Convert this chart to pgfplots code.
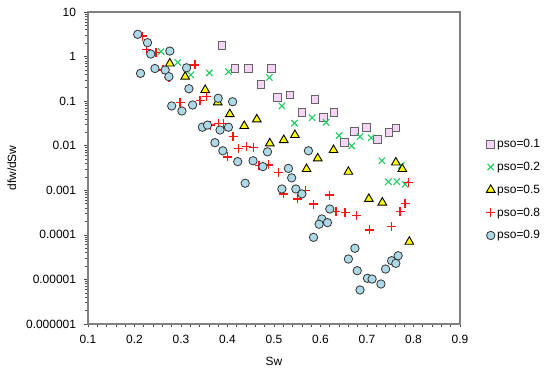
\documentclass[border=0pt]{standalone}
\usepackage{fontspec}
\setmainfont{Liberation Sans}
\usepackage{pgfplots}
\pgfplotsset{compat=1.18}
\definecolor{sqfill}{RGB}{246,212,246}
\definecolor{sqdraw}{RGB}{100,100,100}
\definecolor{xgreen}{RGB}{25,205,95}
\definecolor{tfill}{RGB}{255,255,0}
\definecolor{pred}{RGB}{255,20,20}
\definecolor{cfill}{RGB}{173,216,230}
\definecolor{cdraw}{RGB}{50,50,50}
\definecolor{framegray}{RGB}{128,128,128}
\newcommand{\fsz}{\fontsize{12}{14}\selectfont}
\begin{document}
\begin{tikzpicture}
\useasboundingbox (-88bp,-51bp) rectangle (462bp,324bp);
\begin{axis}[
  at={(0,0)}, anchor=south west,
  scale only axis, width=372bp, height=312bp,
  xmin=0.1, xmax=0.9, ymode=log, ymin=1e-6, ymax=10,
  xtick={0.1,0.2,0.3,0.4,0.5,0.6,0.7,0.8,0.9},
  xticklabels={0.1,0.2,0.3,0.4,0.5,0.6,0.7,0.8,0.9},
  minor x tick num=4,
  ytick={1e-6,1e-5,1e-4,1e-3,1e-2,1e-1,1,10},
  yticklabels={0.000001,0.00001,0.0001,0.001,0.01,0.1,1,10},
  /pgf/number format/assume math mode=true,
  tick align=outside,
  xtick pos=bottom, ytick pos=left,
  major tick length=3.5bp, minor tick length=2.5bp,
  tick style={black!70, line width=0.6bp},
  axis line style={framegray, line width=1.1bp},
  tick label style={font=\fsz},
  xticklabel style={yshift=-4bp},
  yticklabel style={xshift=-5bp},
  label style={font=\fsz},
  xlabel={Sw}, ylabel={dfw/dSw},
  xlabel style={yshift=-7bp},
  ylabel style={yshift=3bp},
  clip=false,
  legend style={draw=none, fill=none, font=\fsz, at={(1.07,0.43)}, anchor=west,
    row sep=9bp, inner sep=0pt},
  legend cell align=left,
  legend image code/.code={\draw[mark repeat=2,mark phase=2,#1] plot coordinates {(0cm,0cm) (0.13cm,0cm) (0.26cm,0cm)};},
]
\addplot[only marks, color=sqdraw, mark=square*, mark size=3.8bp, mark options={fill=sqfill, draw=sqdraw, line width=0.9bp}] coordinates {
(0.388,1.75) (0.416,0.54) (0.445,0.54) (0.495,0.54) (0.472,0.24) (0.507,0.12)
(0.534,0.137) (0.588,0.11) (0.560,0.055) (0.606,0.043) (0.629,0.055)
(0.673,0.021) (0.699,0.026) (0.651,0.0119) (0.723,0.0139) (0.747,0.020) (0.762,0.025)
};
\addlegendentry{pso=0.1}
\addplot[only marks, color=xgreen, mark=x, mark size=4.5bp, mark options={line width=1.1bp}] coordinates {
(0.257,1.29) (0.293,0.74) (0.321,0.39) (0.361,0.43) (0.402,0.46) (0.490,0.34)
(0.517,0.078) (0.544,0.032) (0.582,0.0425) (0.612,0.0335) (0.640,0.0168)
(0.667,0.0099) (0.685,0.016) (0.709,0.0151) (0.732,0.0046) (0.774,0.0036)
(0.746,0.00156) (0.764,0.00156) (0.782,0.00136)
};
\addlegendentry{pso=0.2}
\addplot[only marks, color=black, mark=triangle*, mark size=5bp, mark options={fill=tfill, draw=black, line width=0.9bp}] coordinates {
(0.276,0.70) (0.309,0.354) (0.352,0.178) (0.379,0.094) (0.405,0.051) (0.436,0.0277)
(0.463,0.039) (0.491,0.0113) (0.521,0.0134) (0.545,0.0174) (0.570,0.0030)
(0.594,0.0052) (0.628,0.0080) (0.660,0.0026) (0.762,0.0042) (0.776,0.0030)
(0.704,0.00064) (0.733,0.00053) (0.791,0.00007)
};
\addlegendentry{pso=0.5}
\addplot[only marks, color=pred, mark=+, mark size=4.5bp, mark options={draw=pred, line width=1.35bp}] coordinates {
(0.2175,2.89) (0.226,1.46) (0.246,1.25) (0.261,0.50) (0.274,0.34) (0.330,0.65)
(0.298,0.092) (0.341,0.102) (0.355,0.126) (0.364,0.029) (0.380,0.032) (0.392,0.031)
(0.412,0.016) (0.423,0.0087) (0.441,0.0095) (0.456,0.0090) (0.400,0.0056)
(0.468,0.0036) (0.488,0.0037) (0.509,0.0025) (0.521,0.00083) (0.551,0.00064)
(0.568,0.00098) (0.585,0.00049) (0.620,0.00078) (0.633,0.00033) (0.653,0.00032)
(0.678,0.00027) (0.705,0.000129) (0.752,0.000152) (0.771,0.00033) (0.782,0.00051)
(0.789,0.00148)
};
\addlegendentry{pso=0.8}
\addplot[only marks, color=cdraw, mark=*, mark size=4.2bp, mark options={fill=cfill, draw=cdraw, line width=0.8bp}] coordinates {
(0.207,3.16) (0.228,2.05) (0.235,1.14) (0.213,0.42) (0.244,0.54) (0.266,0.50)
(0.274,0.354) (0.276,1.33) (0.312,0.56) (0.317,0.19) (0.280,0.078) (0.302,0.060)
(0.325,0.082) (0.380,0.116) (0.411,0.097) (0.346,0.026) (0.357,0.029) (0.384,0.0225)
(0.402,0.026) (0.373,0.0117) (0.390,0.0077) (0.422,0.0044) (0.455,0.0046)
(0.476,0.0034) (0.438,0.00144) (0.486,0.0073) (0.517,0.00107) (0.547,0.00107)
(0.560,0.00083) (0.531,0.0031) (0.538,0.0019) (0.574,0.0077) (0.620,0.00038)
(0.603,0.000227) (0.597,0.000173) (0.615,0.000188) (0.585,0.000088)
(0.674,0.00005) (0.660,0.0000287) (0.679,0.0000157) (0.685,0.0000058)
(0.701,0.0000106) (0.711,0.0000102) (0.730,0.0000079) (0.740,0.0000171)
(0.753,0.0000263) (0.762,0.0000229) (0.767,0.000034)
};
\addlegendentry{pso=0.9}
\end{axis}
\end{tikzpicture}
\end{document}
